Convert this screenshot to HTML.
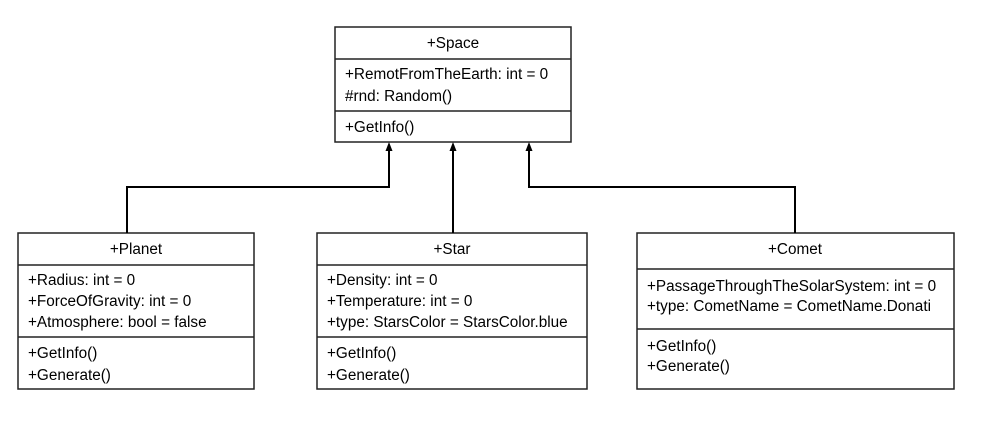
<!DOCTYPE html>
<html><head><style>
body{margin:0;background:#fff;}
</style></head><body>
<svg width="987" height="444" xmlns="http://www.w3.org/2000/svg" style="display:block">
<g fill="#fff" stroke="#222" stroke-width="1.5">
<rect x="335" y="27" width="236" height="115"/>
<line x1="335" y1="59" x2="571" y2="59"/>
<line x1="335" y1="111" x2="571" y2="111"/>
<rect x="18" y="233" width="236" height="156"/>
<line x1="18" y1="265" x2="254" y2="265"/>
<line x1="18" y1="337" x2="254" y2="337"/>
<rect x="317" y="233" width="270" height="156"/>
<line x1="317" y1="265" x2="587" y2="265"/>
<line x1="317" y1="337" x2="587" y2="337"/>
<rect x="637" y="233" width="317" height="156"/>
<line x1="637" y1="269" x2="954" y2="269"/>
<line x1="637" y1="329" x2="954" y2="329"/>
</g>
<g fill="none" stroke="#000" stroke-width="2">
<polyline points="127,233 127,187 389,187 389,150"/>
<line x1="453" y1="233" x2="453" y2="150"/>
<polyline points="795,233 795,187 529,187 529,150"/>
</g>
<g fill="#000">
<polygon points="389,142 385.5,151 392.5,151"/>
<polygon points="453,142 449.5,151 456.5,151"/>
<polygon points="529,142 525.5,151 532.5,151"/>
</g>
<g font-family="'Liberation Sans',sans-serif" font-size="15.3" fill="#000">
<text x="453" y="48" text-anchor="middle">+Space</text>
<text x="345" y="79">+RemotFromTheEarth: int = 0</text>
<text x="345" y="101">#rnd: Random()</text>
<text x="345" y="132">+GetInfo()</text>
<text x="136" y="254" text-anchor="middle">+Planet</text>
<text x="28" y="285">+Radius: int = 0</text>
<text x="28" y="306">+ForceOfGravity: int = 0</text>
<text x="28" y="327">+Atmosphere: bool = false</text>
<text x="28" y="358">+GetInfo()</text>
<text x="28" y="380">+Generate()</text>
<text x="452" y="254" text-anchor="middle">+Star</text>
<text x="327" y="285">+Density: int = 0</text>
<text x="327" y="306">+Temperature: int = 0</text>
<text x="327" y="327">+type: StarsColor = StarsColor.blue</text>
<text x="327" y="358">+GetInfo()</text>
<text x="327" y="380">+Generate()</text>
<text x="795" y="254" text-anchor="middle">+Comet</text>
<text x="647" y="291">+PassageThroughTheSolarSystem: int = 0</text>
<text x="647" y="311">+type: CometName = CometName.Donati</text>
<text x="647" y="351">+GetInfo()</text>
<text x="647" y="371">+Generate()</text>
</g>
</svg>
</body></html>
